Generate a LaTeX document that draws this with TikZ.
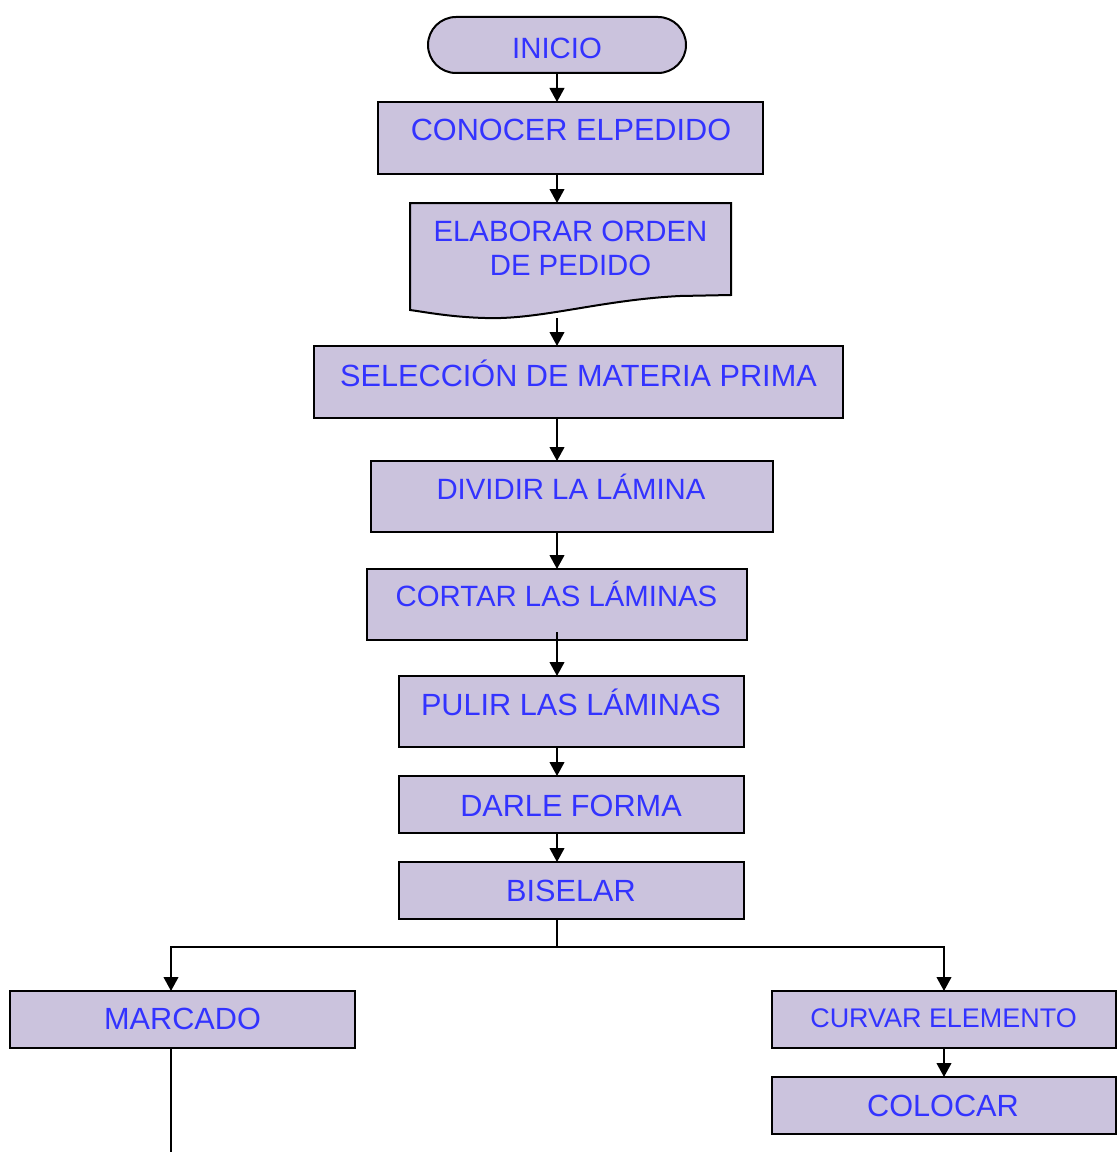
\documentclass[tikz,border=0pt]{standalone}
\usepackage{fontspec}
\setmainfont{Liberation Sans}
\usetikzlibrary{arrows.meta}
\definecolor{boxfill}{HTML}{CBC3DD}
\definecolor{txtblue}{HTML}{3333FF}
\begin{document}
\begin{tikzpicture}[x=0.75pt,y=-0.75pt,
  box/.style n args={2}{draw=black, line width=1.5pt, fill=boxfill,
    minimum width=#1*0.75pt, minimum height=#2*0.75pt, inner sep=0pt, outer sep=0pt},
  lbl/.style={anchor=base, text=txtblue, inner sep=0pt,
    font=\fontsize{23}{27}\selectfont},
  lblnarrow/.style={lbl, font=\fontsize{22}{26}\selectfont},
  lblsmall/.style={lbl, font=\fontsize{20.2}{24}\selectfont},
  conn/.style={line width=1.5pt},
  arr/.style={conn, -{Triangle[length=10.5pt,width=11pt]}}]
\useasboundingbox (0,0) rectangle (1118,1152);
\fill[white] (0,0) rectangle (1118,1152);

% process boxes
\node[box={258}{56}, rounded corners=21pt] (inicio) at (557,45) {};
\node[box={385}{72}] (conocer) at (570.5,138) {};
\node[box={529}{72}] (seleccion) at (578.5,382) {};
\node[box={402}{71}] (dividir) at (572,496.5) {};
\node[box={380}{71}] (cortar) at (557,604.5) {};
\node[box={345}{71}] (pulir) at (571.5,711.5) {};
\node[box={345}{57}] (darle) at (571.5,804.5) {};
\node[box={345}{57}] (biselar) at (571.5,890.5) {};
\node[box={345}{57}] (marcado) at (182.5,1019.5) {};
\node[box={344}{57}] (curvar) at (944,1019.5) {};
\node[box={344}{57}] (colocar) at (944,1105.5) {};

% document symbol with wavy lower edge
\draw[line width=1.5pt, fill=boxfill] (410,203) -- (731,203) -- (731,295)
  -- (680,296) .. controls (600,300) and (540,320) .. (485,318)
  .. controls (450,317) and (425,312) .. (410,310) -- cycle;
\coordinate (elabtop) at (557,203);
\coordinate (elabbot) at (557,318);

% labels
\node[lblnarrow] (t-inicio) at (557,58.5) {INICIO};
\node[lbl] (t-conocer) at (571,141) {CONOCER ELPEDIDO};
\node[lblnarrow] (t-elab1) at (570.5,241) {ELABORAR ORDEN};
\node[lblnarrow] (t-elab2) at (570.5,275) {DE PEDIDO};
\node[lbl] (t-seleccion) at (578.5,386) {SELECCIÓN DE MATERIA PRIMA};
\node[lblnarrow] (t-dividir) at (571,499) {DIVIDIR LA LÁMINA};
\node[lblnarrow] (t-cortar) at (556.5,606) {CORTAR LAS LÁMINAS};
\node[lbl] (t-pulir) at (571,715) {PULIR LAS LÁMINAS};
\node[lbl] (t-darle) at (571,816) {DARLE FORMA};
\node[lbl] (t-biselar) at (571,901) {BISELAR};
\node[lbl] (t-marcado) at (182.5,1029) {MARCADO};
\node[lblsmall] (t-curvar) at (943.5,1027) {CURVAR ELEMENTO};
\node[lbl] (t-colocar) at (943,1116) {COLOCAR};

% main spine
\coordinate (spine) at (557,0);
\draw[arr] (inicio.south) -- (spine |- conocer.north);
\draw[arr] (spine |- conocer.south) -- (elabtop);
\draw[arr] (elabbot) -- (spine |- seleccion.north);
\draw[arr] (spine |- seleccion.south) -- (spine |- dividir.north);
\draw[arr] (spine |- dividir.south) -- (spine |- cortar.north);
\coordinate (cortout) at (557,632);
\draw[arr] (cortout) -- (spine |- pulir.north);
\draw[arr] (spine |- pulir.south) -- (spine |- darle.north);
\draw[arr] (spine |- darle.south) -- (spine |- biselar.north);

% branching after BISELAR
\coordinate (split) at (557,947);
\coordinate (mx) at (171,0);
\coordinate (mend) at (171,1152);
\draw[conn] (spine |- biselar.south) -- (split);
\draw[arr] (split) -| (mx |- marcado.north);
\draw[arr] (split) -| (curvar.north);
\draw[arr] (curvar.south) -- (colocar.north);
\draw[conn] (mx |- marcado.south) -- (mend);
\end{tikzpicture}
\end{document}
